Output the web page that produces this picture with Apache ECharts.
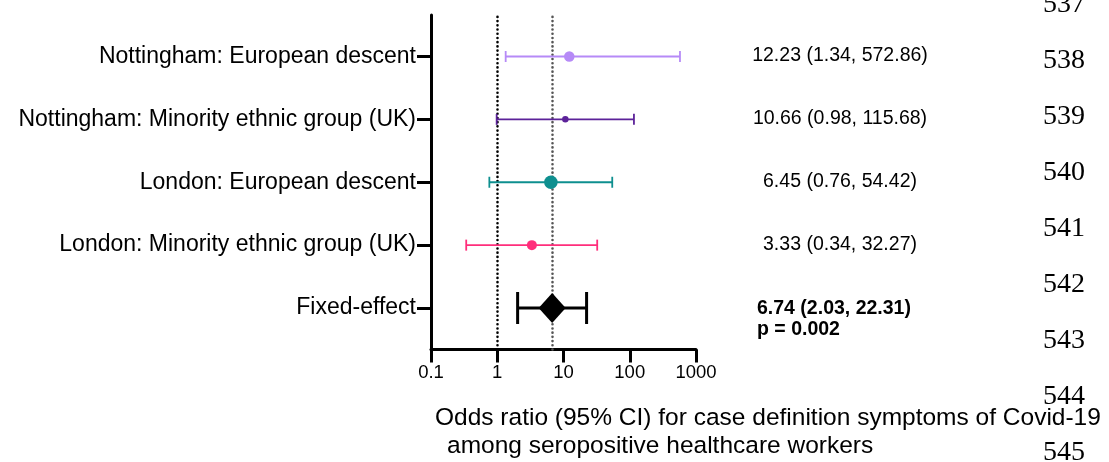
<!DOCTYPE html>
<html><head><meta charset="utf-8">
<script src="https://cdn.jsdelivr.net/npm/echarts@6/dist/echarts.min.js"></script>
<style>html,body{margin:0;padding:0;background:#fff}#c{width:1109px;height:462px}</style>
</head><body><div id="c"></div>
<script>
// ---- data ----
const categories = [
  'Nottingham: European descent',
  'Nottingham: Minority ethnic group (UK)',
  'London: European descent',
  'London: Minority ethnic group (UK)',
  'Fixed-effect'
];
const oddsRatio = [12.23, 10.66, 6.45, 3.33, 6.74];
const ciLower   = [1.34, 0.98, 0.76, 0.34, 2.03];
const ciUpper   = [572.86, 115.68, 54.42, 32.27, 22.31];
const pValueText = 'p = 0.002';
const xTickValues = [0.1, 1, 10, 100, 1000];
const nullLine = 1;
const axisTitleLines = ['Odds ratio (95% CI) for case definition symptoms of Covid-19', 'among seropositive healthcare workers'];
const lineNumbers = ['537','538','539','540','541','542','543','544','545'];

// ---- styles (not data) ----
const SANS = '"Liberation Sans", Arial, Helvetica, sans-serif';
const SERIF = '"Liberation Serif", "Times New Roman", serif';
const rowStyles = [
  {color:'#B68AF7', lw:1.8, cap:11, shape:'circle', size:10.5},
  {color:'#5C2299', lw:1.8, cap:11, shape:'circle', size:6.5},
  {color:'#0E8F8F', lw:1.8, cap:11, shape:'circle', size:13.5},
  {color:'#FF2E7B', lw:1.8, cap:11, shape:'circle', size:10},
  {color:'#000000', lw:3,   cap:32, shape:'diamond', w:27, h:30}
];
const nRows = categories.length;
const rowPos = categories.map((c, i) => nRows - i);
const rowTickValues = rowPos.slice().sort((a,b)=>a-b);

const seriesData = categories.map((c, i) => [oddsRatio[i], ciLower[i], ciUpper[i], rowPos[i], i]);
const fmt = v => v.toFixed(2);

const chart = echarts.init(document.getElementById('c'), null, {renderer:'canvas'});

const graphics = [];
graphics.push({type:'text', left:435, top:406, style:{text:axisTitleLines[0], font:'24.5px '+SANS, fill:'#000'}});
graphics.push({type:'text', left:447, top:434, style:{text:axisTitleLines[1], font:'24.5px '+SANS, fill:'#000'}});
lineNumbers.forEach((t, i) => {
  graphics.push({type:'text', right:24, top:5 + i*55.9 - 14, style:{text:t, font:'28px '+SERIF, fill:'#000'}});
});

chart.setOption({
  animation:false,
  backgroundColor:'#fff',
  grid:{left:431, right:413, top:15, bottom:112.5, containLabel:false},
  xAxis:{
    type:'log', logBase:10, min:xTickValues[0], max:xTickValues[xTickValues.length-1],
    axisLine:{show:true, lineStyle:{color:'#000', width:3}},
    axisTick:{show:true, length:13, lineStyle:{color:'#000', width:3}},
    axisLabel:{show:true, margin:14, color:'#000', fontSize:18.5, fontFamily:SANS,
      formatter: v => String(v)},
    splitLine:{show:false}, minorTick:{show:false}
  },
  yAxis:{
    type:'value', min:0.34, max:nRows + 0.66,
    axisLine:{show:true, lineStyle:{color:'#000', width:3}},
    axisTick:{show:true, customValues:rowTickValues, length:14, lineStyle:{color:'#000', width:3}},
    axisLabel:{show:true, customValues:rowTickValues, margin:15, color:'#000', fontSize:23, fontFamily:SANS,
      formatter: v => categories[nRows - Math.round(v)] || ''},
    splitLine:{show:false}
  },
  graphic: graphics,
  series:[
    {
      type:'scatter', data:[], z:1, silent:true,
      markLine:{
        silent:true, symbol:'none', label:{show:false},
        data:[
          {xAxis:nullLine, lineStyle:{color:'#000', width:2.6, type:[0.01,4.2], cap:'round'}},
          {xAxis:oddsRatio[nRows-1], lineStyle:{color:'#555', width:2.6, type:[0.01,4.2], cap:'round'}}
        ]
      }
    },
    {
      type:'custom', z:5, data:seriesData, encode:{x:0, y:3},
      renderItem: function(params, api){
        const idx = api.value(4);
        const row = api.value(3);
        const or = api.value(0), lo = api.value(1), hi = api.value(2);
        const pLo = api.coord([lo, row]);
        const pHi = api.coord([hi, row]);
        const pM = api.coord([or, row]);
        const st = rowStyles[idx];
        const ls = {stroke:st.color, lineWidth:st.lw};
        const ch = [
          {type:'line', shape:{x1:pLo[0], y1:pLo[1], x2:pHi[0], y2:pHi[1]}, style:ls},
          {type:'line', shape:{x1:pLo[0], y1:pLo[1]-st.cap/2, x2:pLo[0], y2:pLo[1]+st.cap/2}, style:ls},
          {type:'line', shape:{x1:pHi[0], y1:pHi[1]-st.cap/2, x2:pHi[0], y2:pHi[1]+st.cap/2}, style:ls}
        ];
        if (st.shape === 'diamond') {
          ch.push({type:'polygon', shape:{points:[[pM[0]-st.w/2,pM[1]],[pM[0],pM[1]-st.h/2],[pM[0]+st.w/2,pM[1]],[pM[0],pM[1]+st.h/2]]}, style:{fill:st.color}});
          ch.push({type:'text', style:{text:fmt(or)+' ('+fmt(lo)+', '+fmt(hi)+')', x:757, y:pM[1]+1, font:'bold 19.5px '+SANS, fill:'#000', textAlign:'left', textVerticalAlign:'middle'}});
          ch.push({type:'text', style:{text:pValueText, x:757, y:pM[1]+22, font:'bold 19.5px '+SANS, fill:'#000', textAlign:'left', textVerticalAlign:'middle'}});
        } else {
          ch.push({type:'circle', shape:{cx:pM[0], cy:pM[1], r:st.size/2}, style:{fill:st.color}});
          ch.push({type:'text', style:{text:fmt(or)+' ('+fmt(lo)+', '+fmt(hi)+')', x:840, y:pM[1]-1, font:'19.5px '+SANS, fill:'#000', textAlign:'center', textVerticalAlign:'middle'}});
        }
        return {type:'group', children:ch};
      }
    }
  ]
});
</script></body></html>
